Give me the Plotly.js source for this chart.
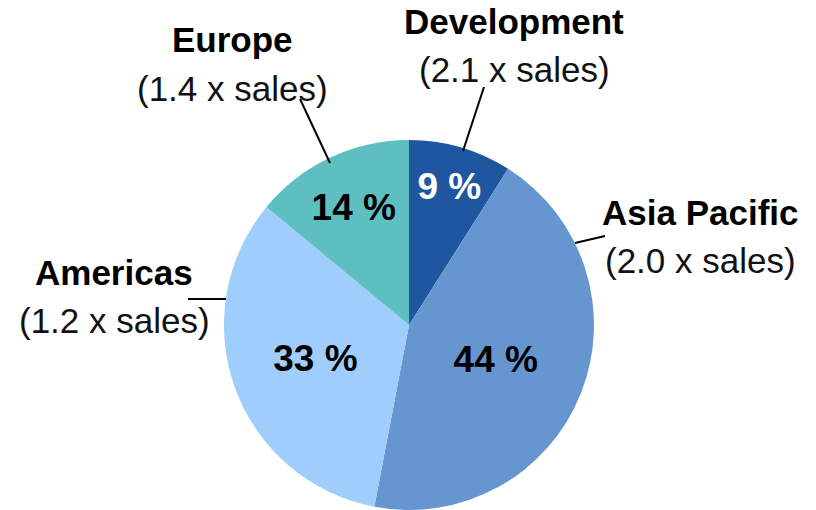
<!DOCTYPE html>
<html>
<head>
<meta charset="utf-8">
<script src="https://cdn.plot.ly/plotly-3.0.1.min.js"></script>
<style>
  html, body { margin: 0; padding: 0; background: #fff; }
  #chart { width: 816px; height: 510px; }
</style>
</head>
<body>
<div id="chart"></div>
<script>
  'use strict';

  var W = 816, H = 510;

  var regions = ['Development', 'Asia Pacific', 'Americas', 'Europe'];
  var shares = [9, 44, 33, 14];
  var multiples = ['2.1', '2.0', '1.2', '1.4'];
  var sliceColors = ['#1f56a0', '#6596cf', '#9fcdfc', '#5dbfc0'];
  var pctColors = ['#ffffff', '#000000', '#000000', '#000000'];

  // label anchor (centre of the name line) and leader line, in pixels
  var labelPos = [[514, 22], [700, 212], [114, 272], [232, 40]];
  var leaders = [
    [484, 87, 463, 151],
    [605, 236, 575, 243],
    [188, 299, 226, 299],
    [300, 99, 330, 163]
  ];

  var FONT = 'Liberation Sans, Arial, sans-serif';

  function px(x) { return x / W; }
  function py(y) { return 1 - y / H; }

  var annotations = [];
  var shapes = [];

  regions.forEach(function (name, i) {
    var p = labelPos[i], l = leaders[i];
    annotations.push({
      text: '<b>' + name + '</b>',
      xref: 'paper', yref: 'paper',
      x: px(p[0]), y: py(p[1]),
      xanchor: 'center', yanchor: 'middle',
      showarrow: false,
      font: {family: FONT, size: 35, color: '#000'}
    });
    annotations.push({
      text: '(' + multiples[i] + ' x sales)',
      xref: 'paper', yref: 'paper',
      x: px(p[0]), y: py(p[1] + 48),
      xanchor: 'center', yanchor: 'middle',
      showarrow: false,
      font: {family: FONT, size: 35, color: '#111'}
    });
    shapes.push({
      type: 'line', xref: 'paper', yref: 'paper',
      x0: px(l[0]), y0: py(l[1]), x1: px(l[2]), y1: py(l[3]),
      line: {color: '#000', width: 2}
    });
  });

  var data = [{
    type: 'pie',
    labels: regions,
    values: shares,
    sort: false,
    direction: 'clockwise',
    rotation: 0,
    marker: {colors: sliceColors, line: {color: '#ffffff', width: 0}},
    texttemplate: '<b>%{value} %</b>',
    textposition: 'inside',
    insidetextorientation: 'horizontal',
    insidetextfont: {family: FONT, size: 37, color: pctColors},
    hoverinfo: 'none',
    domain: {x: [px(409 - 185), px(409 + 185)], y: [0, (185 * 2) / H]},
    showlegend: false
  }];

  var layout = {
    width: W,
    height: H,
    margin: {l: 0, r: 0, t: 0, b: 0},
    paper_bgcolor: '#ffffff',
    plot_bgcolor: '#ffffff',
    showlegend: false,
    annotations: annotations,
    shapes: shapes
  };

  Plotly.newPlot('chart', data, layout, {displayModeBar: false,
    staticPlot: true});
</script>
</body>
</html>
